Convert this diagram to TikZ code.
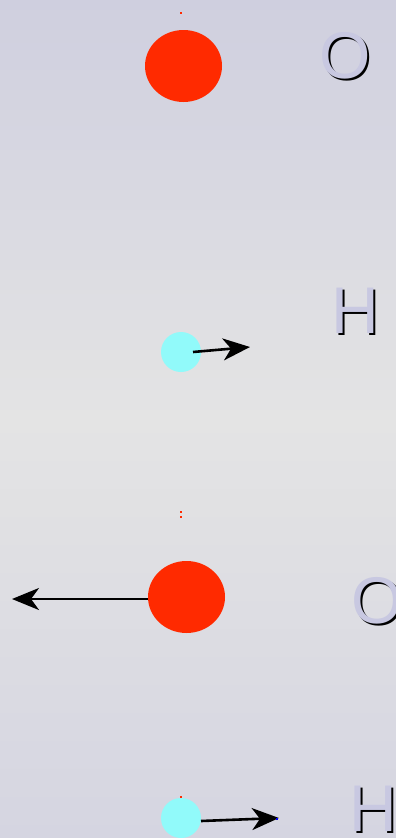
\documentclass[tikz,border=0pt]{standalone}
\usepackage{fontspec}
\setmainfont{Liberation Sans}
\usetikzlibrary{arrows.meta,shapes.geometric}
\definecolor{bgtop}{RGB}{207,207,223}
\definecolor{bgmid}{RGB}{228,228,228}
\definecolor{bgbot}{RGB}{213,213,225}
\definecolor{oxy}{RGB}{255,42,0}
\definecolor{hyd}{RGB}{145,250,250}
\definecolor{lav}{RGB}{200,200,225}
\tikzset{
  oxyatom/.style={ellipse, fill=oxy, minimum width=77pt, minimum height=72pt, inner sep=0pt},
  hydatom/.style={circle, fill=hyd, minimum size=40pt, inner sep=0pt},
  reddot/.style={rectangle, fill=oxy, minimum size=2.6pt, inner sep=0pt},
  bluedot/.style={rectangle, fill=blue, minimum size=2pt, inner sep=0pt},
  lbl/.style={font=\fontsize{66}{66}\selectfont, inner sep=0pt, text=lav},
  lblshadow/.style={font=\fontsize{66}{66}\selectfont, inner sep=0pt, text=black},
  mv/.style={draw=black, line width=2.6pt, -{Stealth[length=27pt,width=22pt,inset=8pt]}}
}
\begin{document}
\begin{tikzpicture}[x=1pt,y=-1pt]
\useasboundingbox (0,0) rectangle (396,838);
\shade[top color=bgtop, bottom color=bgbot, middle color=bgmid] (0,0) rectangle (396,838);
% atoms
\node[oxyatom] (o1) at (183.5,66) {};
\node[hydatom] (h1) at (181,352) {};
\node[oxyatom] (o2) at (186.5,597) {};
\node[hydatom] (h2) at (181,818) {};
% small dots
\node[reddot, minimum size=2pt] (d1) at (181,13) {};
\node[reddot] (d2) at (181,512) {};
\node[reddot] (d3) at (181,517) {};
\node[reddot] (d4) at (181,797) {};
% arrow coordinates
\coordinate (h1s) at (193,352);
\coordinate (h1t) at (250,347);
\coordinate (o2t) at (12,599);
\coordinate (h2s) at (201,821);
\coordinate (h2t) at (279,818);
\draw[mv] (h1s) -- (h1t);
\draw[mv] (o2.west |- 0,599) -- (o2t);
\draw[mv] (h2s) -- (h2t);
\node[bluedot] (bd) at (277,819) {};
% labels with shadow
\node[lblshadow] (lo1s) at (347.5,57.5) {O};
\node[lbl] (lo1) at (345.5,55.5) {O};
\node[lblshadow] (lh1s) at (357,313) {H};
\node[lbl] (lh1) at (355,311) {H};
\node[lblshadow] (lo2s) at (379.5,603) {O};
\node[lbl] (lo2) at (377.5,601) {O};
\node[lblshadow] (lh2s) at (375,811) {H};
\node[lbl] (lh2) at (373,809) {H};
\end{tikzpicture}
\end{document}
